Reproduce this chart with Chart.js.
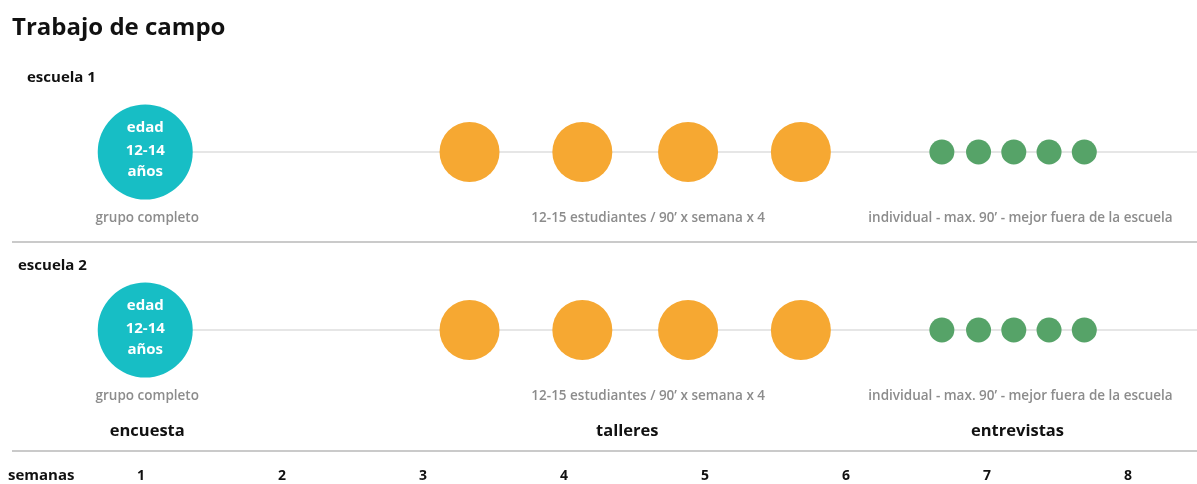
<!DOCTYPE html>
<html lang="es">
<head>
    <meta charset="UTF-8">
    <title>Trabajo de campo</title>
    <script src="https://cdn.jsdelivr.net/npm/chart.js"></script>
    <style>
        body { margin: 0; background: #fff; }
        #wrap { width: 1197px; height: 484px; }
    </style>
</head>
<body>
    <div id="wrap">
        <canvas id="timeline" width="1197" height="484"></canvas>
    </div>

    <script>
        // data (x in weeks, rows are the schools)
        const weeks = [1, 2, 3, 4, 5, 6, 7, 8];
        const schools = ['escuela 1', 'escuela 2'];
        const phaseNames = ['encuesta', 'talleres', 'entrevistas'];
        const phaseNotes = ['grupo completo', '12-15 estudiantes / 90’ x semana x 4', 'individual - max. 90’ - mejor fuera de la escuela'];
        const encuestaWeeks = [1.03];
        const talleresWeeks = [3.33, 4.13, 4.88, 5.68];
        const entrevistasWeeks = [6.68, 6.94, 7.19, 7.44, 7.69];
        const encuestaText = ['edad', '12-14', 'años'];

        const FONT = '"Open Sans", "Noto Sans", sans-serif';
        const phaseWeeks = [encuestaWeeks, talleresWeeks, entrevistasWeeks];
        const phaseColors = ['#17bec5', '#f6a832', '#56a368'];
        const phaseRadius = [47.5, 30, 12.5];
        // small pixel nudges for the text under each phase
        const noteShift = [2, 13, 7];
        const nameShift = [2, -8, 4];

        function points(list) {
            const out = [];
            schools.forEach((s, i) => {
                list.forEach(w => out.push({ x: w, y: i + 1 }));
            });
            return out;
        }

        const datasets = phaseNames.map((name, i) => ({
            label: name,
            data: points(phaseWeeks[i]),
            backgroundColor: phaseColors[i],
            borderWidth: 0,
            pointRadius: phaseRadius[i],
            pointHoverRadius: phaseRadius[i]
        }));

        const mean = arr => arr.reduce((a, b) => a + b, 0) / arr.length;

        const decor = {
            id: 'decor',
            beforeDatasetsDraw(chart) {
                const ctx = chart.ctx;
                const xs = chart.scales.x, ys = chart.scales.y;
                ctx.save();
                ctx.strokeStyle = '#e6e6e6';
                ctx.lineWidth = 2;
                schools.forEach((s, i) => {
                    const y = ys.getPixelForValue(i + 1);
                    ctx.beginPath();
                    ctx.moveTo(xs.getPixelForValue(encuestaWeeks[0]), y);
                    ctx.lineTo(chart.width, y);
                    ctx.stroke();
                });
                ctx.restore();
            },
            afterDraw(chart) {
                const ctx = chart.ctx;
                const xs = chart.scales.x, ys = chart.scales.y;
                ctx.save();
                ctx.textBaseline = 'middle';

                ctx.fillStyle = '#111';
                ctx.textAlign = 'left';
                ctx.font = 'bold 24px ' + FONT;
                ctx.fillText('Trabajo de campo', 12, 28);

                const labelPos = [[27, 78], [18, 266]];
                ctx.font = 'bold 15px ' + FONT;
                schools.forEach((s, i) => ctx.fillText(s, labelPos[i][0], labelPos[i][1]));
                ctx.fillText('semanas', 8, 476);

                // separators
                ctx.strokeStyle = '#b8b8b8';
                ctx.lineWidth = 1.5;
                [242, 451].forEach(y => {
                    ctx.beginPath();
                    ctx.moveTo(12, y);
                    ctx.lineTo(chart.width, y);
                    ctx.stroke();
                });

                ctx.textAlign = 'center';
                schools.forEach((s, i) => {
                    const yRow = ys.getPixelForValue(i + 1);
                    // text inside the survey circle
                    const cx = xs.getPixelForValue(encuestaWeeks[0]);
                    ctx.fillStyle = '#fff';
                    ctx.font = 'bold 15px ' + FONT;
                    [-24, -1, 20].forEach((dy, k) => ctx.fillText(encuestaText[k], cx, yRow + dy));
                    // notes under each phase
                    ctx.fillStyle = '#8c8c8c';
                    ctx.font = '600 13.5px ' + FONT;
                    phaseNotes.forEach((note, p) => {
                        ctx.fillText(note, xs.getPixelForValue(mean(phaseWeeks[p])) + noteShift[p], yRow + 66);
                    });
                });

                ctx.fillStyle = '#111';
                ctx.font = 'bold 16.5px ' + FONT;
                phaseNames.forEach((name, p) => {
                    ctx.fillText(name, xs.getPixelForValue(mean(phaseWeeks[p])) + nameShift[p], 431);
                });
                ctx.restore();
            }
        };

        new Chart(document.getElementById('timeline').getContext('2d'), {
            type: 'scatter',
            data: { datasets: datasets },
            options: {
                responsive: false,
                animation: false,
                events: [],
                layout: { padding: 0, autoPadding: false },
                plugins: { legend: { display: false }, tooltip: { enabled: false } },
                scales: {
                    x: {
                        type: 'linear',
                        min: 0,
                        max: 8.4894,
                        afterBuildTicks: scale => { scale.ticks = weeks.map(v => ({ value: v })); },
                        afterFit: scale => { scale.height = 34; },
                        grid: { display: false, drawTicks: false },
                        border: { display: false },
                        ticks: {
                            padding: 18,
                            color: '#111',
                            font: { family: FONT, size: 14, weight: 'bold' }
                        }
                    },
                    y: {
                        display: false,
                        reverse: true,
                        min: 0.14607,
                        max: 2.67416
                    }
                }
            },
            plugins: [decor]
        });
    </script>
</body>
</html>
